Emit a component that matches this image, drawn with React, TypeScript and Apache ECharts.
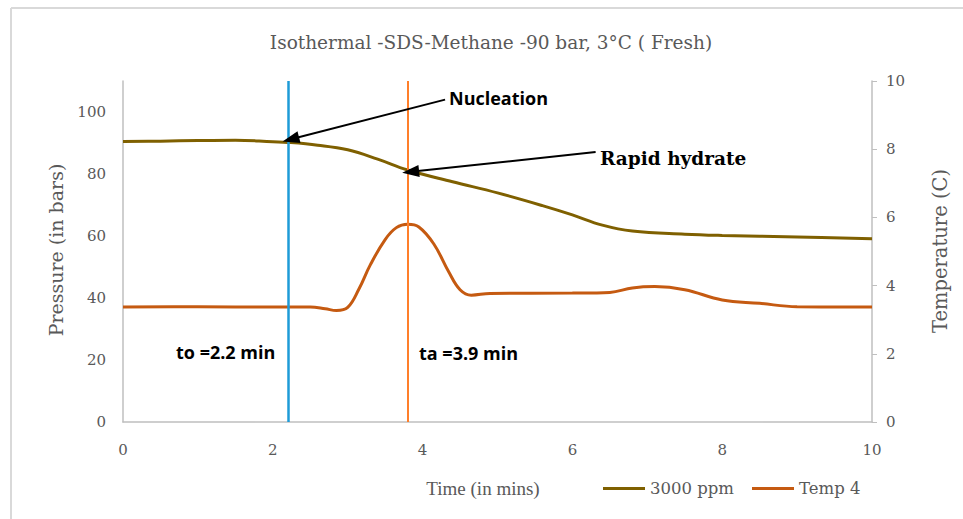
import React, { useEffect, useRef } from "react";
import * as echarts from "echarts";

const timeP = [0, 0.5, 1, 1.5, 2, 2.2, 2.6, 3.0, 3.4, 3.8, 4.4, 5.0, 5.6, 6.0, 6.4, 6.8, 7.5, 8.0, 9.0, 10];
const pressure = [90.5, 90.6, 90.8, 90.9, 90.4, 90.2, 89.3, 87.8, 84.8, 81.3, 77.5, 73.9, 69.8, 66.8, 63.5, 61.6, 60.6, 60.2, 59.7, 59.1];

const timeT = [0, 1, 2, 2.5, 2.7, 2.85, 3.0, 3.15, 3.3, 3.5, 3.65, 3.8, 3.95, 4.15, 4.35, 4.5, 4.65, 4.9, 6.0, 6.5, 6.8, 7.1, 7.5, 8.0, 8.5, 9.0, 10];
const temperature = [3.37, 3.38, 3.37, 3.37, 3.32, 3.27, 3.36, 3.9, 4.6, 5.35, 5.7, 5.8, 5.72, 5.22, 4.4, 3.88, 3.72, 3.77, 3.78, 3.8, 3.93, 3.97, 3.88, 3.58, 3.48, 3.38, 3.37];

const seriesNames = ["3000 ppm", "Temp 4"];
const tNucleation = 2.2;
const tRapid = 3.8;
const nucleationArrow = [[4.3, 104], [2.24, 91.2]];
const rapidArrow = [[6.31, 87.1], [3.84, 80.7]];

const SERIF = "'DejaVu Serif', 'Liberation Serif', serif";
const SERIF_NARROW = "'Liberation Serif', 'DejaVu Serif', serif";
const SANS = "'Open Sans', 'Liberation Sans', sans-serif";
const GREY = "#595959";

export default function App() {
  const ref = useRef<HTMLDivElement>(null);
  useEffect(() => {
    if (!ref.current) return;
    const chart = echarts.init(ref.current, undefined, { renderer: "svg" });
    chart.setOption({
      animation: false,
      backgroundColor: "#ffffff",
      grid: { left: 123, right: 91, top: 81, bottom: 97 },
      legend: {
        data: seriesNames,
        left: 598,
        top: 475,
        icon: "rect",
        itemWidth: 42,
        itemHeight: 3,
        itemGap: 18,
        textStyle: { fontFamily: SERIF, fontSize: 16.5, color: GREY },
      },
      xAxis: {
        type: "value",
        min: 0,
        max: 10,
        interval: 2,
        axisLine: { lineStyle: { color: "#bfbfbf", width: 1.5 } },
        axisTick: { show: false },
        splitLine: { show: false },
        axisLabel: { margin: 20, fontFamily: SERIF, fontSize: 15, color: GREY },
      },
      yAxis: [
        {
          type: "value",
          min: 0,
          max: 110,
          interval: 20,
          axisLine: { show: true, lineStyle: { color: "#bfbfbf", width: 1.5 } },
          axisTick: { show: false },
          splitLine: { show: false },
          axisLabel: {
            margin: 17,
            fontFamily: SERIF,
            fontSize: 15,
            color: GREY,
            formatter: (v: number) => (v > 100 ? "" : String(v)),
          },
        },
        {
          type: "value",
          min: 0,
          max: 10,
          interval: 2,
          position: "right",
          axisLine: { show: true, lineStyle: { color: "#bfbfbf", width: 1.5 } },
          axisTick: { show: true, length: 5, lineStyle: { color: "#bfbfbf" } },
          splitLine: { show: false },
          axisLabel: { margin: 14, fontFamily: SERIF, fontSize: 15, color: GREY },
        },
      ],
      series: [
        {
          name: seriesNames[0],
          type: "line",
          yAxisIndex: 0,
          smooth: 0.4,
          symbol: "none",
          data: timeP.map((t, i) => [t, pressure[i]]),
          lineStyle: { color: "#7F6000", width: 3 },
          itemStyle: { color: "#7F6000" },
        },
        {
          name: seriesNames[1],
          type: "line",
          yAxisIndex: 1,
          smooth: 0.4,
          symbol: "none",
          data: timeT.map((t, i) => [t, temperature[i]]),
          lineStyle: { color: "#C55A11", width: 3 },
          itemStyle: { color: "#C55A11" },
        },
        {
          name: "markers",
          type: "line",
          yAxisIndex: 0,
          data: [],
          silent: true,
          markLine: {
            silent: true,
            symbol: ["none", "none"],
            label: { show: false },
            data: [
              { xAxis: tNucleation, lineStyle: { color: "#1E9BD7", width: 2.5, type: "solid" } },
              { xAxis: tRapid, lineStyle: { color: "#FF7F2A", width: 2, type: "solid" } },
            ],
          },
        },
        {
          name: "arrows",
          type: "line",
          yAxisIndex: 0,
          data: [],
          silent: true,
          markLine: {
            silent: true,
            symbol: ["none", "triangle"],
            symbolSize: [12, 17],
            label: { show: false },
            lineStyle: { color: "#000000", width: 2, type: "solid" },
            data: [
              [{ coord: nucleationArrow[0] }, { coord: nucleationArrow[1] }],
              [{ coord: rapidArrow[0] }, { coord: rapidArrow[1] }],
            ],
          },
        },
      ],
      graphic: [
        { type: "line", shape: { x1: 11, y1: 8, x2: 963, y2: 8 }, style: { stroke: "#d9d9d9", lineWidth: 2 } },
        { type: "line", shape: { x1: 11, y1: 8, x2: 11, y2: 519 }, style: { stroke: "#d9d9d9", lineWidth: 2 } },
        {
          type: "text",
          x: 491,
          y: 42,
          style: {
            text: "Isothermal -SDS-Methane -90 bar, 3°C ( Fresh)",
            fontFamily: SERIF,
            fontSize: 18.5,
            fill: GREY,
            align: "center",
            verticalAlign: "middle",
          },
        },
        {
          type: "text",
          x: 483,
          y: 488,
          style: {
            text: "Time (in mins)",
            fontFamily: SERIF_NARROW,
            fontSize: 19,
            fill: GREY,
            align: "center",
            verticalAlign: "middle",
          },
        },
        {
          type: "text",
          x: 56,
          y: 250,
          rotation: Math.PI / 2,
          style: {
            text: "Pressure (in bars)",
            fontFamily: SERIF,
            fontSize: 19,
            fill: GREY,
            align: "center",
            verticalAlign: "middle",
          },
        },
        {
          type: "text",
          x: 940,
          y: 251,
          rotation: Math.PI / 2,
          style: {
            text: "Temperature (C)",
            fontFamily: SERIF,
            fontSize: 19.5,
            fill: GREY,
            align: "center",
            verticalAlign: "middle",
          },
        },
        {
          type: "text",
          x: 449,
          y: 98,
          style: { text: "Nucleation", fontFamily: SANS, fontWeight: "bold", fontSize: 18, fill: "#000", verticalAlign: "middle" },
        },
        {
          type: "text",
          x: 600,
          y: 158,
          style: { text: "Rapid hydrate", fontFamily: SERIF, fontWeight: "bold", fontSize: 18.5, fill: "#000", verticalAlign: "middle" },
        },
        {
          type: "text",
          x: 176,
          y: 352,
          style: { text: "to =2.2 min", fontFamily: SANS, fontWeight: "bold", fontSize: 18, fill: "#000", verticalAlign: "middle" },
        },
        {
          type: "text",
          x: 419,
          y: 353,
          style: { text: "ta =3.9 min", fontFamily: SANS, fontWeight: "bold", fontSize: 18, fill: "#000", verticalAlign: "middle" },
        },
      ],
    });
    return () => chart.dispose();
  }, []);
  return (
    <div
      ref={ref}
      style={{ position: "fixed", left: 0, top: 0, width: 963, height: 519, background: "#fff" }}
    />
  );
}
